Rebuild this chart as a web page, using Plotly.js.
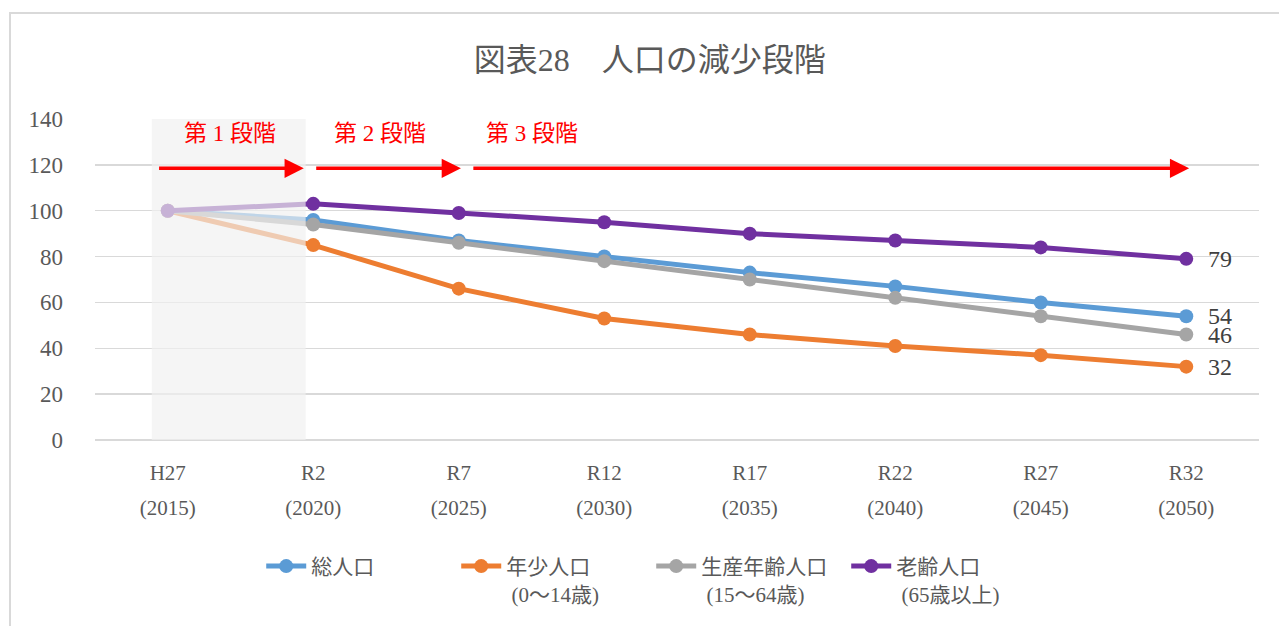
<!DOCTYPE html>
<html>
<head>
<meta charset="utf-8">
<script src="https://cdn.plot.ly/plotly-3.0.1.min.js"></script>
<style>
  html, body { margin: 0; padding: 0; background: #ffffff; }
  #chart { width: 1279px; height: 626px; position: absolute; left: 0; top: 0; }
  #frame { position: absolute; left: 9px; top: 12px; width: 1300px; height: 700px;
           border-left: 2px solid #D9D9D9; border-top: 2px solid #D9D9D9; pointer-events: none; z-index: 5; }
</style>
</head>
<body>
<div id="chart"></div>
<div id="frame"></div>
<script>
// ---- data ----
const categories = ['H27', 'R2', 'R7', 'R12', 'R17', 'R22', 'R27', 'R32'];
const years = ['(2015)', '(2020)', '(2025)', '(2030)', '(2035)', '(2040)', '(2045)', '(2050)'];
const seriesNames = ['総人口', '年少人口<br>\u00a0(0～14歳)', '生産年齢人口<br>\u00a0(15～64歳)', '老齢人口<br>\u00a0(65歳以上)'];
const totalPop = [100, 96, 87, 80, 73, 67, 60, 54];
const youthPop = [100, 85, 66, 53, 46, 41, 37, 32];
const workingPop = [100, 94, 86, 78, 70, 62, 54, 46];
const elderlyPop = [100, 103, 99, 95, 90, 87, 84, 79];
const stageLabels = ['第 1 段階', '第 2 段階', '第 3 段階'];
const yTicks = [0, 20, 40, 60, 80, 100, 120, 140];

const colors = ['#5B9BD5', '#ED7D31', '#A5A5A5', '#7030A0'];
const seriesValues = [totalPop, youthPop, workingPop, elderlyPop];

const FONT = "'Liberation Serif', 'Noto Sans CJK JP', serif";
const GREY = '#595959';

const traces = seriesValues.map((vals, i) => ({
  type: 'scatter',
  mode: 'lines+markers',
  name: seriesNames[i],
  x: categories,
  y: vals,
  line: { color: colors[i], width: 5 },
  marker: { color: colors[i], size: 14 },
  hoverinfo: 'skip'
}));
// empty trace only to activate the second (year) label axis
traces.push({
  type: 'scatter', mode: 'markers', x: [], y: [], xaxis: 'x2', yaxis: 'y',
  showlegend: false, hoverinfo: 'skip'
});

const last = categories.length - 1;
const annotations = [];
// end-of-series value labels
seriesValues.forEach((vals) => {
  annotations.push({
    x: last, y: vals[last], xref: 'x', yref: 'y',
    text: String(vals[last]), showarrow: false,
    xanchor: 'left', yanchor: 'middle', xshift: 20,
    font: { family: FONT, size: 24, color: '#404040' }
  });
});
// stage arrows (tip, tail in category index units)
const arrowDefs = [[0.935, -0.07], [2.015, 1.01], [7.02, 2.09]];
arrowDefs.forEach(([tip, tail]) => {
  annotations.push({
    x: tip, y: 118.5, ax: tail, ay: 118.5, xref: 'x', yref: 'y', axref: 'x', ayref: 'y',
    text: '', showarrow: true, arrowhead: 2, arrowsize: 1.1, arrowwidth: 3.5,
    arrowcolor: '#FF0000', standoff: 0, startstandoff: 0
  });
});
// stage labels
const stageX = [0.43, 1.46, 2.505];
stageLabels.forEach((t, i) => {
  annotations.push({
    x: stageX[i], y: 133.5, xref: 'x', yref: 'y', text: t, showarrow: false,
    xanchor: 'center', yanchor: 'middle',
    font: { family: FONT, size: 23, color: '#FF0000' }
  });
});

const layout = {
  width: 1279, height: 626,
  margin: { l: 95, r: 20, t: 119, b: 186 },
  paper_bgcolor: 'rgba(0,0,0,0)',
  plot_bgcolor: '#ffffff',
  font: { family: FONT, color: GREY },
  title: {
    text: '図表28　人口の減少段階',
    font: { family: FONT, size: 32, color: GREY },
    x: 0.508, xref: 'container', xanchor: 'center',
    y: 0.905, yref: 'container', yanchor: 'middle'
  },
  xaxis: {
    type: 'category',
    range: [-0.5, 7.5],
    tickmode: 'array',
    tickvals: categories,
    ticktext: categories,
    tickfont: { family: FONT, size: 21, color: GREY },
    showgrid: false, zeroline: false, showline: false,
    ticks: '', ticklabelstandoff: 18
  },
  xaxis2: {
    overlaying: 'x', anchor: 'y', side: 'bottom',
    type: 'linear',
    range: [-0.5, 7.5],
    tickmode: 'array',
    tickvals: categories.map((c, i) => i),
    ticktext: years,
    tickfont: { family: FONT, size: 21, color: GREY },
    showgrid: false, zeroline: false, showline: false,
    ticks: '', ticklabelstandoff: 53
  },
  yaxis: {
    range: [0, 140],
    tickmode: 'array',
    tickvals: yTicks,
    ticktext: yTicks.map(String),
    tickfont: { family: FONT, size: 23, color: GREY },
    showgrid: true, gridcolor: '#D9D9D9', gridwidth: 1.5,
    zeroline: true, zerolinecolor: '#D9D9D9', zerolinewidth: 1.5,
    showline: false, ticks: '', ticklabelstandoff: 31
  },
  shapes: [{
    type: 'rect', xref: 'x', yref: 'y',
    x0: -0.11, x1: 0.948, y0: 0, y1: 140,
    fillcolor: 'rgba(240,240,240,0.68)', line: { width: 0 }, layer: 'above'
  }],
  annotations: annotations,
  legend: {
    orientation: 'h',
    x: 0.1428, xanchor: 'left',
    y: -0.33, yanchor: 'top',
    valign: 'top',
    font: { family: FONT, size: 21, color: GREY },
    itemwidth: 40,
    entrywidth: 140,
    bgcolor: 'rgba(0,0,0,0)'
  },
  showlegend: true
};

Plotly.newPlot('chart', traces, layout, { displayModeBar: false, staticPlot: true });
</script>
</body>
</html>
